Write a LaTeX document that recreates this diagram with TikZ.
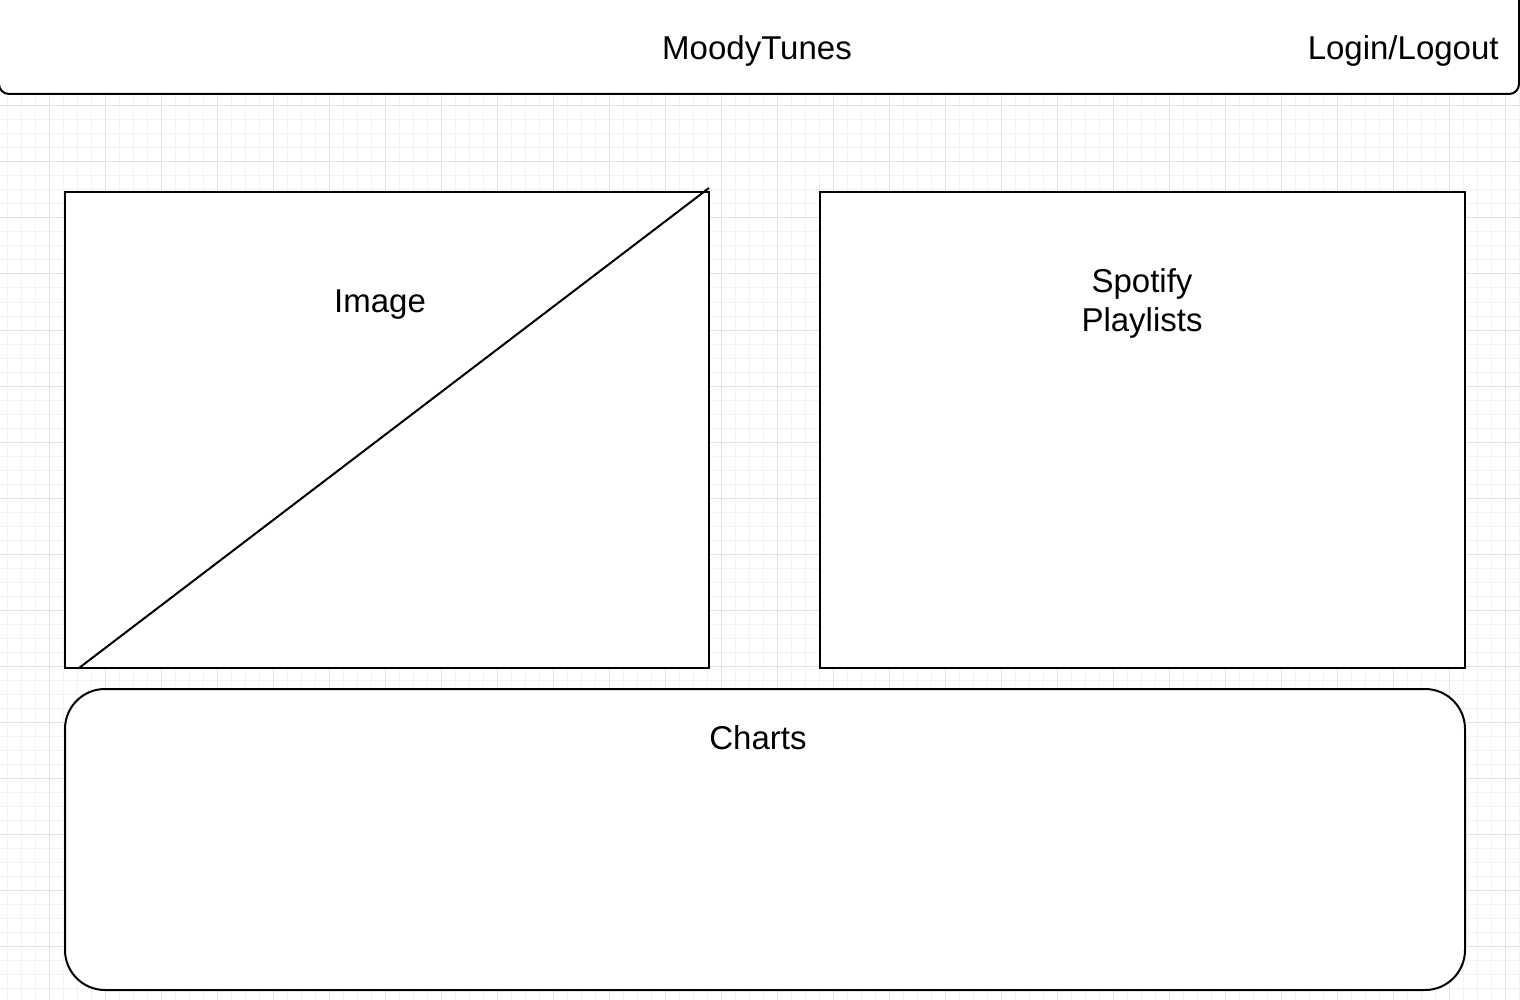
\documentclass[tikz,border=0pt]{standalone}
\usepackage{fontspec}
\setmainfont{Liberation Sans}
\usetikzlibrary{positioning}
\definecolor{gridminor}{HTML}{F3F3F3}
\definecolor{gridmajor}{HTML}{E2E2E2}
\tikzstyle{panel}=[draw=black,line width=1pt,fill=white]
\tikzstyle{lbl}=[inner sep=0pt,font=\fontsize{16.5}{19.5}\selectfont,align=center]

\begin{document}
\begin{tikzpicture}[x=0.5pt,y=-0.5pt]
\useasboundingbox (0,0) rectangle (1520,1000);
\fill[white] (0,0) rectangle (1520,1000);
\foreach \gx in {7,21,...,1520} \draw[gridminor,line width=0.5pt] (\gx,0) -- (\gx,1000);
\foreach \gy in {8,22,...,1000} \draw[gridminor,line width=0.5pt] (0,\gy) -- (1520,\gy);
\foreach \gx in {49,105,...,1520} \draw[gridmajor,line width=0.5pt] (\gx,0) -- (\gx,1000);
\foreach \gy in {50,106,...,1000} \draw[gridmajor,line width=0.5pt] (0,\gy) -- (1520,\gy);
\begin{scope}
\clip (0,0) rectangle (1520,1000);
\draw[panel,rounded corners=5] (-1,-20) rectangle (1519,94);
\end{scope}
\draw[panel] (65,192) rectangle (709,668);
\draw[panel] (820,192) rectangle (1465,668);
\draw[panel,rounded corners=20] (65,689) rectangle (1465,990);
\coordinate (diagA) at (79,668);
\coordinate (diagB) at (709,188);
\draw[line width=1pt] (diagA) -- (diagB);
\node[lbl] (title) at (757,51) {MoodyTunes};
\node[lbl,anchor=east] (login) at (1499,51) {Login/Logout};
\node[lbl] (image) at (380,305) {Image};
\node[lbl] (spotify) at (1142,303) {Spotify\\Playlists};
\node[lbl] (charts) at (758,738) {Charts};
\end{tikzpicture}
\end{document}
